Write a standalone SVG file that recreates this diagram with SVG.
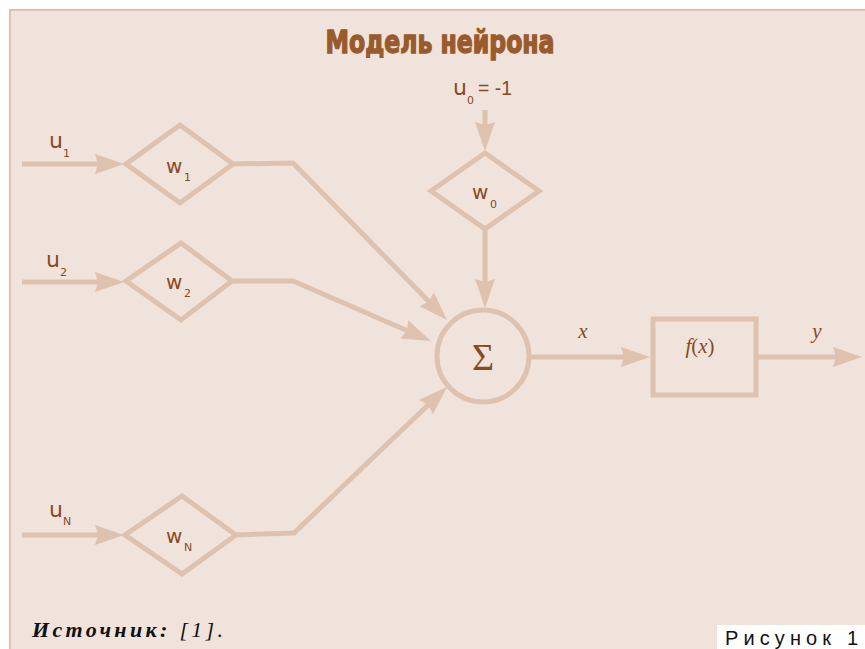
<svg xmlns="http://www.w3.org/2000/svg" width="865" height="649" viewBox="0 0 865 649">
  <style>
    .wire { fill: none; stroke: #dfc2ae; stroke-width: 5; stroke-linejoin: miter; }
    .arrow { marker-end: url(#head); }
    .shape { fill: none; stroke: #dfc2ae; stroke-width: 5; stroke-linejoin: miter; }
    .lbl { font-family: "DejaVu Sans", "Liberation Sans", sans-serif; fill: #8a4a1f; }
    .sub { font-family: "DejaVu Sans", "Liberation Sans", sans-serif; fill: #8a4a1f; font-size: 11px; }
    .math { font-family: "Liberation Serif", "DejaVu Serif", serif; fill: #8a4a1f; font-style: italic; font-size: 21px; }
  </style>
  <defs>
    <marker id="head" markerUnits="userSpaceOnUse" viewBox="0 0 29 20" markerWidth="29" markerHeight="20" refX="14" refY="10" orient="auto">
      <path d="M0,0 L29,10 L0,20 L3,10 Z" fill="#dfc2ae"/>
    </marker>
  </defs>

  <!-- page and panel -->
  <rect x="0" y="0" width="865" height="649" fill="#ffffff"/>
  <rect x="10" y="10" width="860" height="650" fill="#f0e3dc" stroke="#e0c3af" stroke-width="2"/>

  <!-- title -->
  <text transform="translate(440,53) scale(1,1.12)" x="0" y="0" text-anchor="middle" font-family="'Liberation Sans Narrow', 'DejaVu Sans Condensed', 'Liberation Sans', sans-serif" font-weight="bold" font-size="29" fill="#995a2c" stroke="#995a2c" stroke-width="1.2" textLength="229" lengthAdjust="spacingAndGlyphs">Модель нейрона</text>

  <!-- connectors -->
  <g id="connectors">
    <line class="wire arrow" x1="22" y1="164" x2="109" y2="164"/>
    <line class="wire arrow" x1="22" y1="282" x2="109" y2="282"/>
    <line class="wire arrow" x1="22" y1="535" x2="109" y2="535"/>
    <line class="wire arrow" x1="485" y1="110" x2="485" y2="136"/>
    <line class="wire arrow" x1="485" y1="229" x2="485" y2="293"/>
    <polyline class="wire arrow" points="232,164 293,163 436.5,309.3"/>
    <polyline class="wire arrow" points="231,281 293,281 417.2,335"/>
    <polyline class="wire arrow" points="235,535 294,533 436.2,397.3"/>
    <line class="wire arrow" x1="530" y1="357" x2="635" y2="357"/>
    <line class="wire arrow" x1="758" y1="357" x2="847" y2="357"/>
  </g>

  <!-- inputs -->
  <g id="input-u1">
    <text class="lbl" x="49" y="148" font-size="22">u</text>
    <text class="sub" x="63" y="157">1</text>
  </g>
  <g id="input-u2">
    <text class="lbl" x="46" y="267" font-size="22">u</text>
    <text class="sub" x="60" y="276">2</text>
  </g>
  <g id="input-uN">
    <text class="lbl" x="49" y="517" font-size="22">u</text>
    <text class="sub" x="63" y="525">N</text>
  </g>
  <g id="input-u0">
    <text class="lbl" x="453" y="95" font-size="22">u</text>
    <text class="sub" x="467" y="104">0</text>
    <text x="478" y="95" font-family="'Liberation Sans Narrow', 'Liberation Sans', sans-serif" font-size="21" fill="#8a4a1f" textLength="34" lengthAdjust="spacingAndGlyphs">= -1</text>
  </g>

  <!-- weights -->
  <g id="weight-w1">
    <polygon class="shape" points="180,125 233,164 180,203 126,164"/>
    <text class="lbl" x="166" y="173" font-size="20">w</text>
    <text class="sub" x="184" y="181">1</text>
  </g>
  <g id="weight-w2">
    <polygon class="shape" points="181,243 232,281 181,320 126,281"/>
    <text class="lbl" x="166" y="289" font-size="20">w</text>
    <text class="sub" x="184" y="297">2</text>
  </g>
  <g id="weight-wN">
    <polygon class="shape" points="182,496 236,535 182,574 125,535"/>
    <text class="lbl" x="166" y="543" font-size="20">w</text>
    <text class="sub" x="184" y="551">N</text>
  </g>
  <g id="weight-w0">
    <polygon class="shape" points="485,153 539,191 485,229 431,191"/>
    <text class="lbl" x="472" y="199" font-size="20">w</text>
    <text class="sub" x="490" y="208">0</text>
  </g>

  <!-- summator -->
  <g id="sum">
    <circle class="shape" cx="483" cy="356" r="46"/>
    <text x="483" y="370" text-anchor="middle" font-family="'Liberation Serif', 'DejaVu Serif', serif" font-size="38" fill="#8a4a1f">Σ</text>
  </g>

  <!-- activation -->
  <g id="activation">
    <rect class="shape" x="653" y="319" width="103" height="76"/>
    <text class="math" x="700" y="353" text-anchor="middle">f<tspan font-style="normal">(</tspan>x<tspan font-style="normal">)</tspan></text>
  </g>

  <!-- signal labels -->
  <text class="math" x="583" y="338" text-anchor="middle">x</text>
  <text class="math" x="817" y="338" text-anchor="middle">y</text>

  <!-- source note -->
  <text x="32" y="637" font-family="'Liberation Serif', 'DejaVu Serif', serif" font-size="22" font-style="italic" fill="#111111" textLength="191" lengthAdjust="spacing"><tspan font-weight="bold">Источник:</tspan> [1].</text>

  <!-- caption -->
  <rect x="717" y="625" width="148" height="24" fill="#ffffff"/>
  <text x="725" y="645" font-family="'Liberation Sans', 'DejaVu Sans', sans-serif" font-size="20" fill="#111111" textLength="133" lengthAdjust="spacing">Рисунок 1</text>
</svg>
